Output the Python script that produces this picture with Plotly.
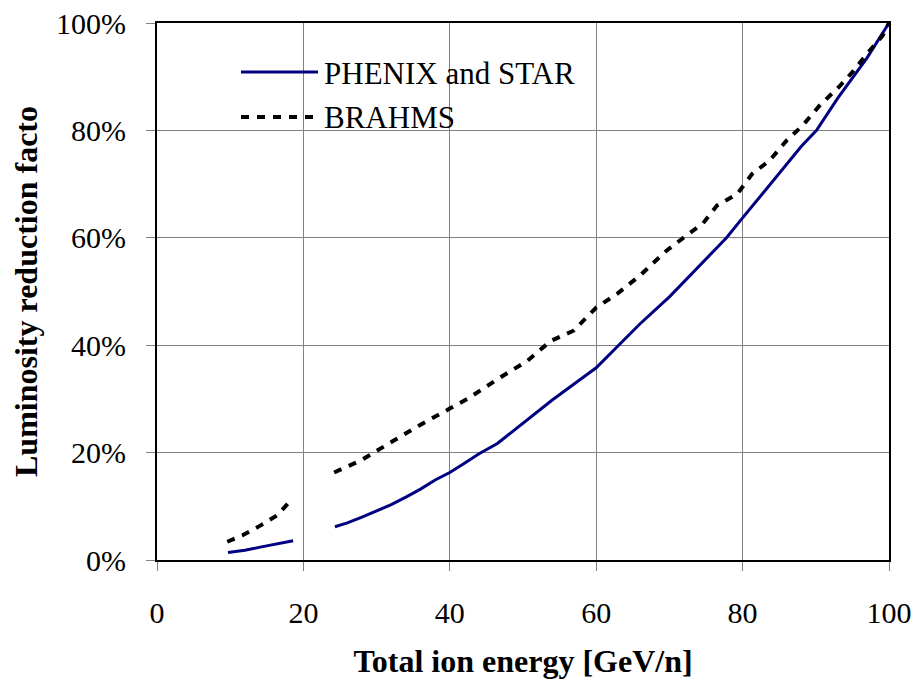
import plotly.graph_objects as go

# PHENIX and STAR (two segments, gap marked with None)
phenix_x = [9.7, 12, 14.1, 16.5, 18.6, None,
            24.3, 26, 28, 30, 32, 34, 36, 38, 40, 42, 44, 46.5, 50, 54, 58, 60,
            63, 66, 70, 73.7, 77.8, 80, 84, 88, 90.1, 93, 97, 100]
phenix_y = [1.4, 1.8, 2.4, 3.0, 3.6, None,
            6.2, 6.9, 8.0, 9.1, 10.3, 11.7, 13.2, 14.9, 16.3, 18.0, 19.8, 21.7, 25.5, 29.8, 33.8, 35.8,
            39.9, 44.0, 49.0, 54.2, 60.0, 63.7, 70.3, 77.0, 80.0, 86.0, 93.5, 100.0]

# BRAHMS (two segments)
brahms_x = [9.6, 11.7, 14.1, 16.4, 18.5, None,
            24.2, 27.8, 32.3, 36, 40, 42.4, 46.9, 50.6, 53.8, 56.9, 60, 62.9, 66, 69.6,
            71.9, 74.6, 76.5, 79.3, 81.3, 83.7, 86, 88.2, 90.5, 93.3, 95.1, 97, 99.1, 100]
brahms_y = [3.4, 4.6, 6.4, 8.3, 11.4, None,
            16.3, 18.5, 22.2, 25.2, 28.2, 30.0, 34.0, 37.1, 40.8, 42.7, 47.0, 49.6, 53.0, 57.6,
            60.0, 62.7, 66.0, 68.2, 71.9, 74.4, 78.1, 80.9, 84.6, 88.3, 91.0, 94.3, 97.6, 100.0]

series_names = ["PHENIX and STAR", "BRAHMS"]
x_ticks = [0, 20, 40, 60, 80, 100]
y_ticks = [0, 20, 40, 60, 80, 100]
y_tick_labels = ["0%", "20%", "40%", "60%", "80%", "100%"]

NAVY = "#000080"
FONT = "Liberation Serif"

fig = go.Figure()
fig.add_trace(go.Scatter(x=phenix_x, y=phenix_y, mode="lines", name=series_names[0],
                         line=dict(color=NAVY, width=3), connectgaps=False))
fig.add_trace(go.Scatter(x=brahms_x, y=brahms_y, mode="lines", name=series_names[1],
                         line=dict(color="black", width=4, dash="8px,8px"), connectgaps=False))

# plot-area pixel positions (screen coordinates) for the hand-built legend
L, R, T, B = 157, 889, 23, 560
def px(p):
    return (p - L) / (R - L)
def py(p):
    return (B - p) / (B - T)

fig.add_shape(type="rect", xref="paper", yref="paper", x0=px(228), x1=px(590), y0=py(46), y1=py(138),
              fillcolor="white", line=dict(width=0), layer="between")
fig.add_shape(type="line", xref="paper", yref="paper", x0=px(241), x1=px(318), y0=py(72), y1=py(72),
              line=dict(color=NAVY, width=3))
fig.add_shape(type="line", xref="paper", yref="paper", x0=px(241), x1=px(318), y0=py(117), y1=py(117),
              line=dict(color="black", width=4, dash="8px,8px"))
fig.add_annotation(xref="paper", yref="paper", x=px(322), y=py(73), text=series_names[0],
                   showarrow=False, xanchor="left", yanchor="middle",
                   font=dict(family=FONT, size=31, color="black"))
fig.add_annotation(xref="paper", yref="paper", x=px(322), y=py(117), text=series_names[1],
                   showarrow=False, xanchor="left", yanchor="middle",
                   font=dict(family=FONT, size=31, color="black"))

W, H = 915, 681
fig.update_layout(
    width=W, height=H,
    margin=dict(l=L, r=W - R, t=T, b=H - B),
    paper_bgcolor="white", plot_bgcolor="white",
    showlegend=False,
    font=dict(family=FONT, color="black"),
    xaxis=dict(range=[0, 100], tickvals=x_ticks, ticktext=[str(v) for v in x_ticks],
               automargin=False, ticklabeloverflow="allow",
               showgrid=True, gridcolor="#808080", gridwidth=1,
               showline=True, linecolor="black", linewidth=2, mirror=True,
               ticks="outside", ticklen=9, tickcolor="#808080",
               ticklabelstandoff=16,
               tickfont=dict(family=FONT, size=30), zeroline=False,
               title=dict(text="<b>Total ion energy [GeV/n]</b>", font=dict(family=FONT, size=32),
                          standoff=22)),
    yaxis=dict(range=[0, 100], tickvals=y_ticks, ticktext=y_tick_labels,
               automargin=False, ticklabeloverflow="allow",
               showgrid=True, gridcolor="#808080", gridwidth=1,
               showline=True, linecolor="black", linewidth=2, mirror=True,
               ticks="outside", ticklen=9, tickcolor="#808080",
               ticklabelstandoff=14,
               tickfont=dict(family=FONT, size=30), zeroline=False,
               title=dict(text="<b>Luminosity reduction facto</b>", font=dict(family=FONT, size=32),
                          standoff=9)),
)

fig.write_html("out.html", config={"displayModeBar": False},
               post_script="document.body.style.margin='0';document.body.style.overflow='hidden';")
